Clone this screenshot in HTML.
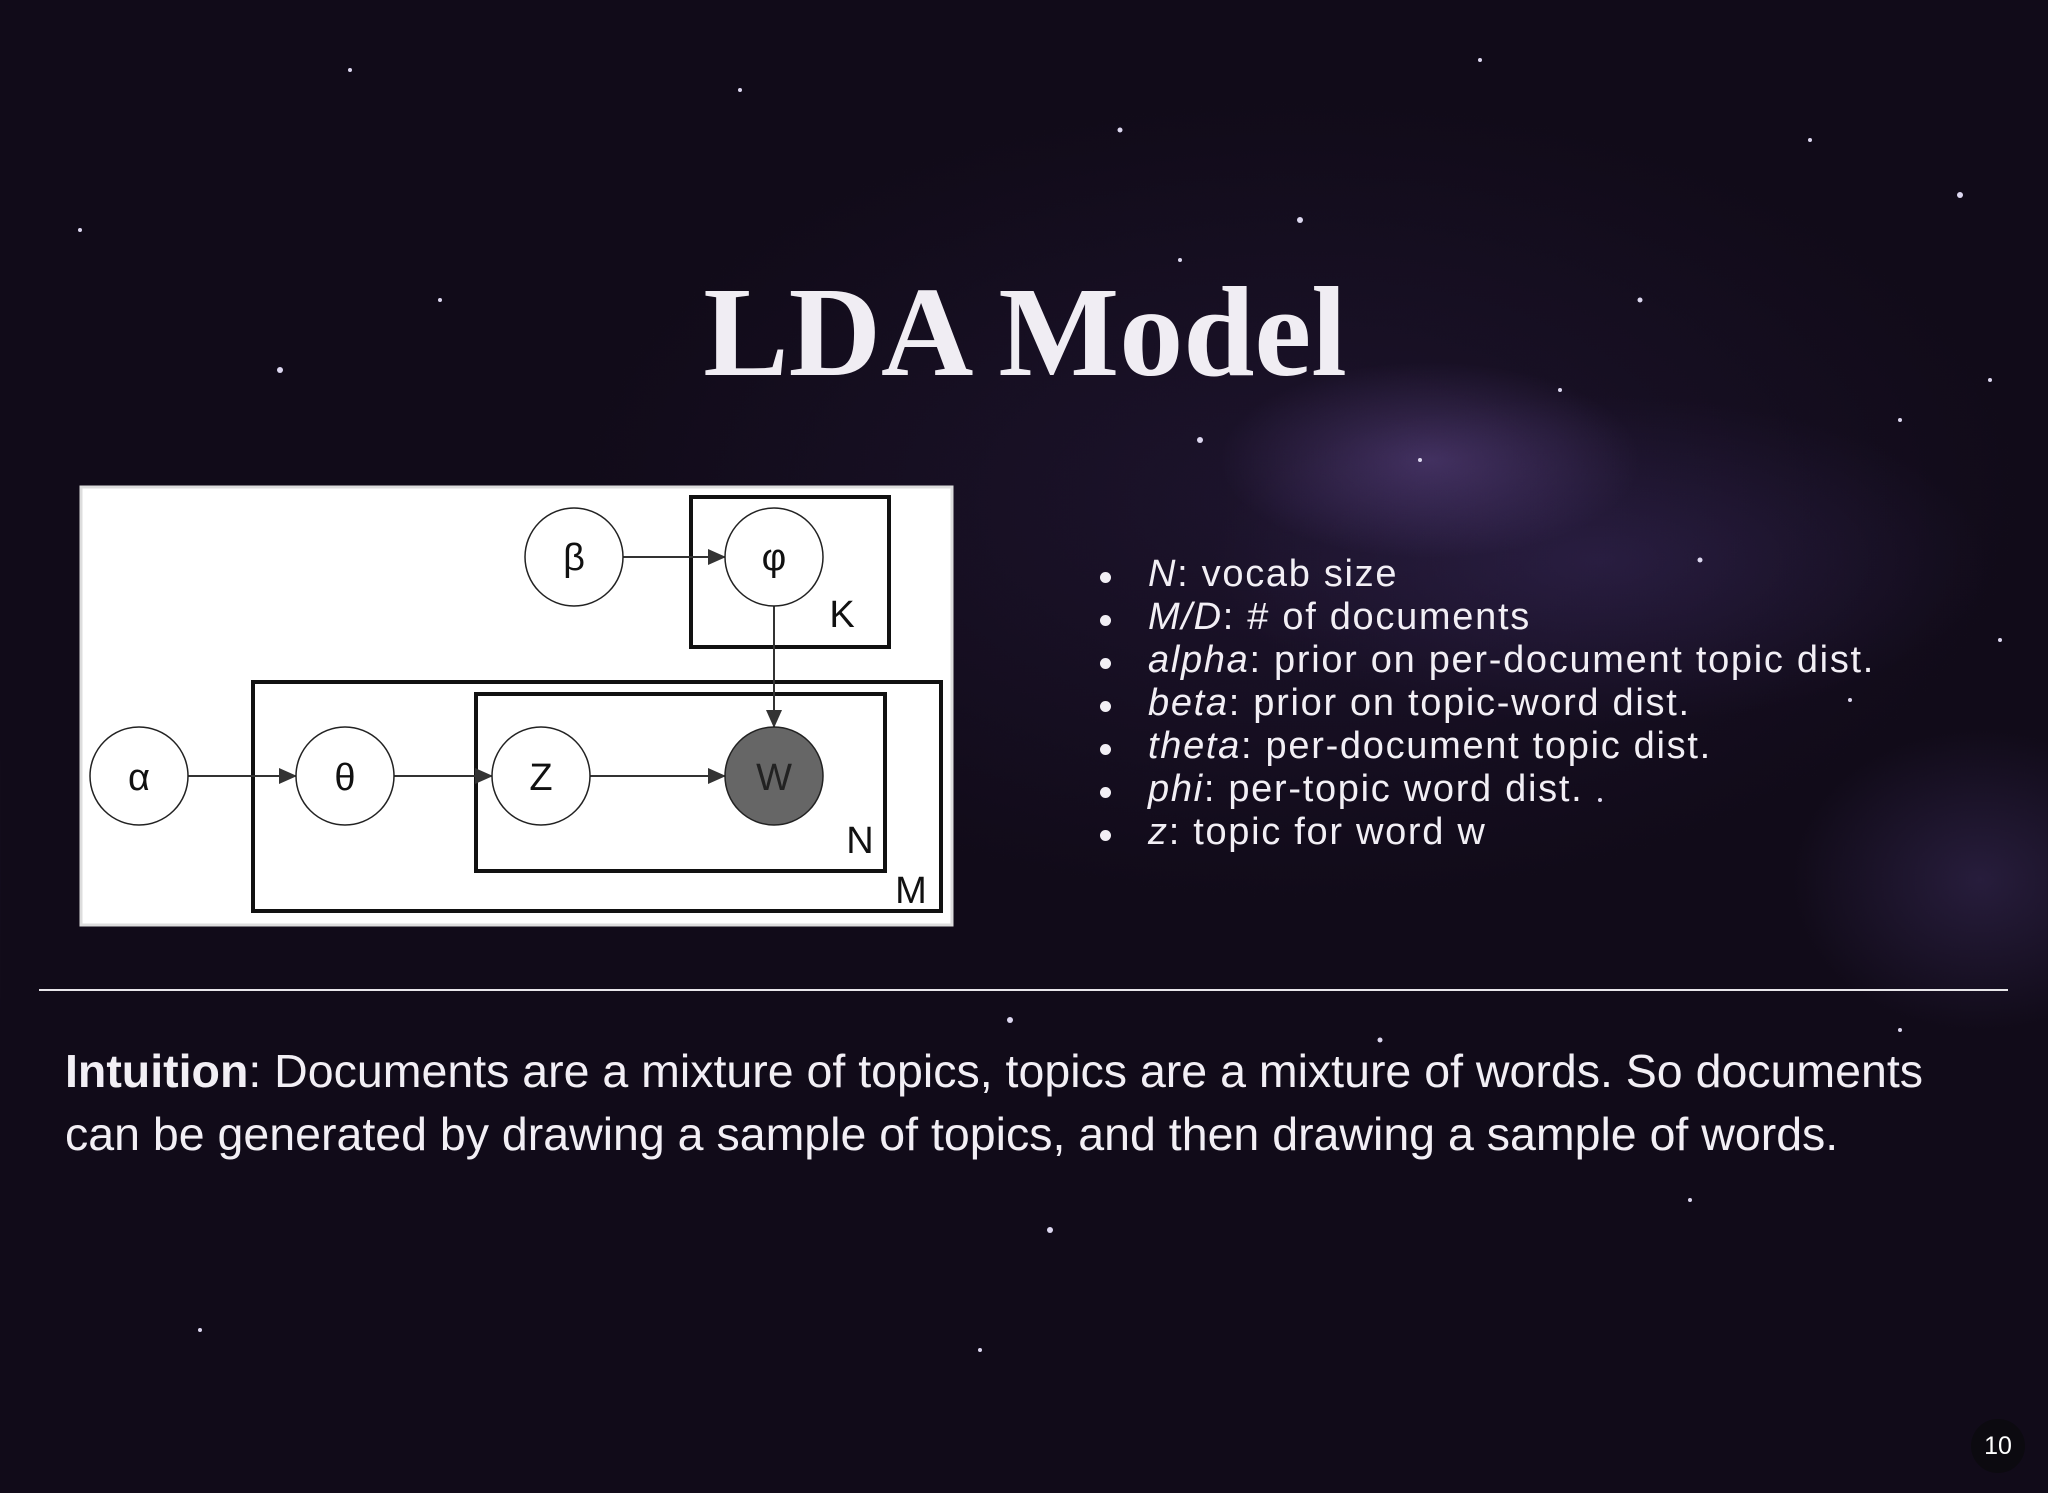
<!DOCTYPE html>
<html><head><meta charset="utf-8"><style>
html,body{margin:0;padding:0}
body{width:2048px;height:1493px;position:relative;overflow:hidden;font-family:"Liberation Sans",sans-serif;
background:
radial-gradient(ellipse 300px 140px at 1430px 460px, rgba(120,90,170,0.4), transparent 70%),
radial-gradient(ellipse 520px 220px at 1600px 560px, rgba(80,60,130,0.3), transparent 75%),
radial-gradient(ellipse 250px 200px at 1980px 880px, rgba(90,70,140,0.3), transparent 75%),
radial-gradient(ellipse 900px 500px at 1300px 500px, rgba(50,35,80,0.35), transparent 80%),
#110b19;}
.title{position:absolute;left:0;width:2050px;text-align:center;top:268px;font-family:"Liberation Serif",serif;font-weight:bold;font-size:128px;color:#f0edf3;line-height:1}
ul{position:absolute;left:1100px;top:553px;margin:0;padding:0;list-style:none;color:#f2eff5;font-size:38px;line-height:43px;letter-spacing:1.7px}
ul li{position:relative;padding-left:48px;white-space:nowrap}
ul li:before{content:"";position:absolute;left:0;top:19px;width:11px;height:11px;border-radius:50%;background:#f2eff5}
.intu{position:absolute;left:65px;top:1040px;width:2000px;color:#f2eff5;font-size:46.5px;line-height:63px;white-space:nowrap}
.hr{position:absolute;left:39px;top:989px;width:1969px;height:2px;background:#e8e6ea}
.pg{position:absolute;left:1971px;top:1419px;width:54px;height:54px;border-radius:50%;background:#0c0a10;color:#fff;font-size:25px;text-align:center;line-height:54px}
</style></head><body>
<svg width="2048" height="1493" style="position:absolute;left:0;top:0">
<g fill="#ddd8f0">
<circle cx="740" cy="90" r="2"/><circle cx="1120" cy="130" r="2.5"/><circle cx="1300" cy="220" r="3"/><circle cx="1960" cy="195" r="3"/><circle cx="1810" cy="140" r="2"/><circle cx="440" cy="300" r="2"/><circle cx="280" cy="370" r="3"/><circle cx="1640" cy="300" r="2.5"/><circle cx="1900" cy="420" r="2"/><circle cx="1990" cy="380" r="2"/><circle cx="1200" cy="440" r="3"/><circle cx="1420" cy="460" r="2"/><circle cx="1560" cy="390" r="2"/><circle cx="1050" cy="1230" r="3"/><circle cx="1380" cy="1040" r="2.5"/><circle cx="1690" cy="1200" r="2"/><circle cx="600" cy="1130" r="2"/><circle cx="200" cy="1330" r="2"/><circle cx="1900" cy="1030" r="2"/><circle cx="980" cy="1350" r="2"/><circle cx="80" cy="230" r="2"/><circle cx="1180" cy="260" r="2"/><circle cx="1700" cy="560" r="2.5"/><circle cx="1850" cy="700" r="2"/><circle cx="1010" cy="1020" r="3"/><circle cx="1600" cy="800" r="2"/><circle cx="350" cy="70" r="2"/><circle cx="1480" cy="60" r="2"/><circle cx="2000" cy="640" r="2"/><circle cx="1260" cy="700" r="2"/>
</g>
<rect x="81" y="487" width="871" height="438" fill="#fff" stroke="#ddd" stroke-width="3"/>
<g fill="none" stroke="#111" stroke-width="4">
<rect x="691" y="497" width="198" height="150"/>
<rect x="253" y="682" width="688" height="229"/>
<rect x="476" y="694" width="409" height="177"/>
</g>
<defs><marker id="a" markerWidth="18" markerHeight="16" refX="17" refY="8" orient="auto" markerUnits="userSpaceOnUse" viewBox="0 0 18 16"><path d="M0,0 L18,8 L0,16 z" fill="#333"/></marker></defs>
<g stroke="#333" stroke-width="2" marker-end="url(#a)">
<line x1="623" y1="557" x2="725" y2="557"/>
<line x1="188" y1="776" x2="296" y2="776"/>
<line x1="394" y1="776" x2="492" y2="776"/>
<line x1="590" y1="776" x2="725" y2="776"/>
<line x1="774" y1="606" x2="774" y2="727"/>
</g>
<g stroke="#222" stroke-width="1.5" fill="#fff">
<circle cx="574" cy="557" r="49"/><circle cx="774" cy="557" r="49"/>
<circle cx="139" cy="776" r="49"/><circle cx="345" cy="776" r="49"/><circle cx="541" cy="776" r="49"/>
<circle cx="774" cy="776" r="49" fill="#666"/>
</g>
<g font-family="Liberation Sans, DejaVu Sans, sans-serif" font-size="38" fill="#111" text-anchor="middle">
<text x="574" y="570">β</text><text x="774" y="570">φ</text><text x="139" y="790">α</text><text x="345" y="790">θ</text><text x="541" y="790">Z</text><text x="774" y="790" fill="#222">W</text>
<text x="842" y="627">K</text><text x="860" y="853">N</text><text x="911" y="903">M</text>
</g>
</svg>
<div class="title">LDA Model</div>
<ul>
<li><i>N</i>: vocab size</li>
<li><i>M/D</i>: # of documents</li>
<li><i>alpha</i>: prior on per-document topic dist.</li>
<li><i>beta</i>: prior on topic-word dist.</li>
<li><i>theta</i>: per-document topic dist.</li>
<li><i>phi</i>: per-topic word dist.</li>
<li><i>z</i>: topic for word w</li>
</ul>
<div class="hr"></div>
<div class="intu"><b>Intuition</b>: Documents are a mixture of topics, topics are a mixture of words. So documents<br>can be generated by drawing a sample of topics, and then drawing a sample of words.</div>
<div class="pg">10</div>
</body></html>
